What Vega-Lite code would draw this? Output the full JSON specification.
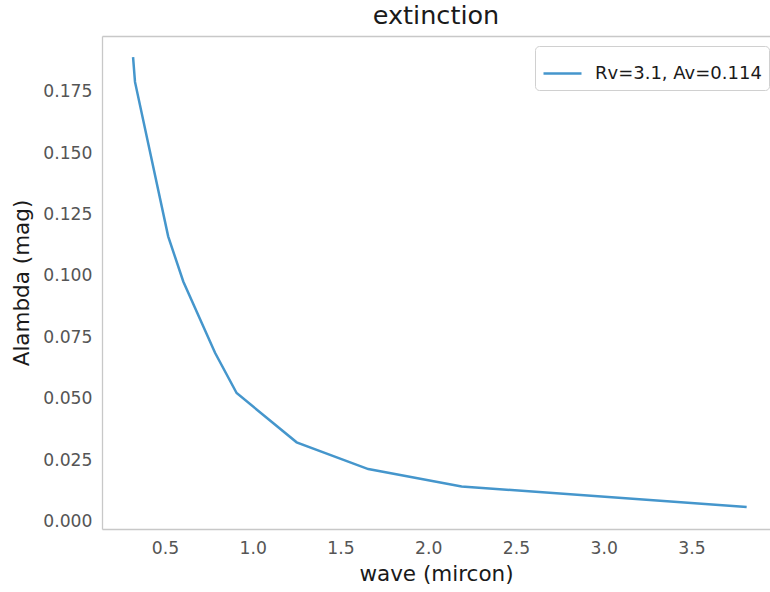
{
  "$schema": "https://vega.github.io/schema/vega-lite/v6.json",
  "autosize": "none",
  "width": 668,
  "height": 493,
  "padding": {"left": 102, "top": 36, "right": 0, "bottom": 63},
  "background": "white",
  "title": {"text": "extinction", "fontSize": 25.5, "font": "DejaVu Sans", "fontWeight": "normal", "color": "#1a1a1a", "offset": 7, "anchor": "middle"},
  "data": {"values": [
    {"wave": 0.318, "alambda": 0.1891, "series": "Rv=3.1, Av=0.114"},
    {"wave": 0.329, "alambda": 0.1790, "series": "Rv=3.1, Av=0.114"},
    {"wave": 0.518, "alambda": 0.1161, "series": "Rv=3.1, Av=0.114"},
    {"wave": 0.604, "alambda": 0.0977, "series": "Rv=3.1, Av=0.114"},
    {"wave": 0.785, "alambda": 0.0687, "series": "Rv=3.1, Av=0.114"},
    {"wave": 0.908, "alambda": 0.0523, "series": "Rv=3.1, Av=0.114"},
    {"wave": 1.250, "alambda": 0.0322, "series": "Rv=3.1, Av=0.114"},
    {"wave": 1.658, "alambda": 0.0213, "series": "Rv=3.1, Av=0.114"},
    {"wave": 2.190, "alambda": 0.0142, "series": "Rv=3.1, Av=0.114"},
    {"wave": 3.814, "alambda": 0.0059, "series": "Rv=3.1, Av=0.114"}
  ]},
  "layer": [
    {
      "mark": {"type": "line", "strokeWidth": 2.5, "clip": true},
      "encoding": {
        "x": {"field": "wave", "type": "quantitative", "title": "wave (mircon)",
          "scale": {"domain": [0.141, 3.947], "nice": false, "zero": false},
          "axis": {"values": [0.5, 1.0, 1.5, 2.0, 2.5, 3.0, 3.5], "format": ".1f", "orient": "bottom"}},
        "y": {"field": "alambda", "type": "quantitative", "title": "Alambda (mag)",
          "scale": {"domain": [-0.0031, 0.1977], "nice": false, "zero": false},
          "axis": {"values": [0, 0.025, 0.05, 0.075, 0.1, 0.125, 0.15, 0.175], "format": ".3f"}},
        "color": {"field": "series", "type": "nominal", "title": null,
          "scale": {"range": ["#4596cc"]},
          "legend": {"orient": "none", "legendX": 433, "legendY": 10, "symbolType": "stroke", "symbolSize": 1444, "symbolStrokeWidth": 2.5,
            "padding": 7, "fillColor": "white", "strokeColor": "#d0d0d0", "cornerRadius": 4, "labelFontSize": 18, "labelFont": "DejaVu Sans", "labelColor": "#1a1a1a", "labelOffset": 12, "labelLimit": 400}}
      }
    },
    {
      "mark": {"type": "line", "opacity": 0},
      "encoding": {
        "x": {"field": "wave", "type": "quantitative",
          "axis": {"orient": "top", "labels": false, "ticks": false, "title": null, "domain": true}}
      }
    }
  ],
  "resolve": {"axis": {"x": "independent"}},
  "config": {
    "view": {"stroke": null},
    "axis": {
      "grid": false, "ticks": false, "domainColor": "#c8c8c8", "domainWidth": 1.3,
      "labelFont": "DejaVu Sans", "labelFontSize": 17.2, "labelColor": "#555555", "labelPadding": 10,
      "titleFont": "DejaVu Sans", "titleFontSize": 21.5, "titleFontWeight": "normal", "titleColor": "#1a1a1a"
    },
    "axisX": {"titlePadding": 7},
    "axisY": {"titlePadding": 9}
  }
}
